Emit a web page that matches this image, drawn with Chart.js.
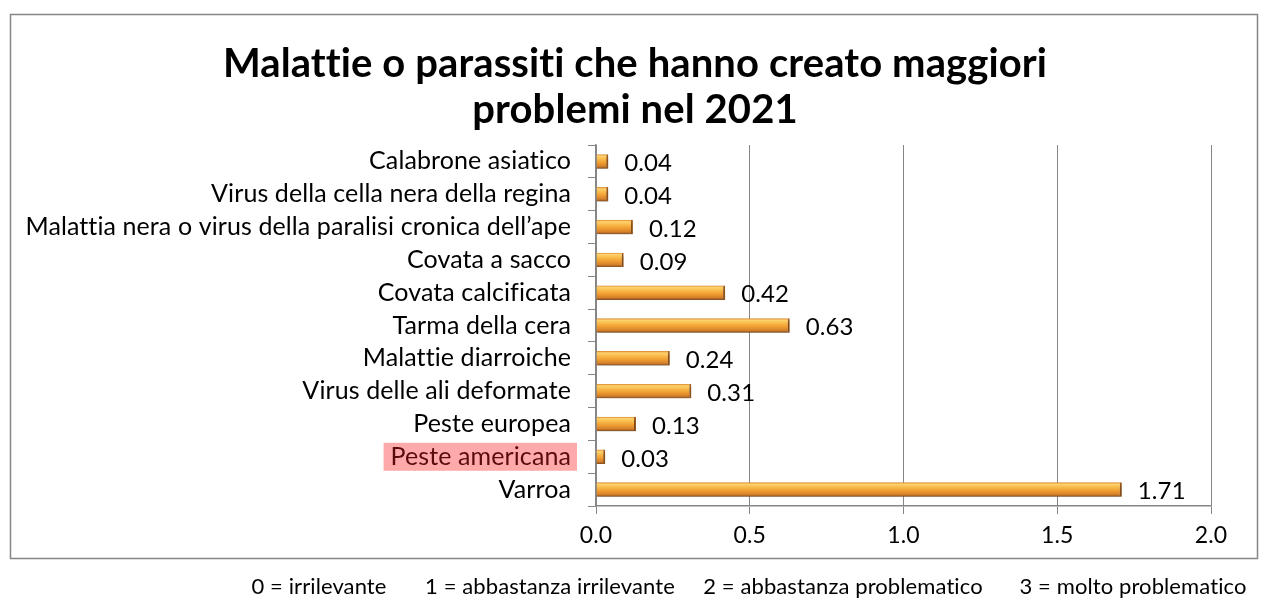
<!DOCTYPE html>
<html><head><meta charset="utf-8">
<script src="https://cdn.jsdelivr.net/npm/chart.js@4/dist/chart.umd.min.js"></script>
<style>html,body{margin:0;padding:0;background:#fff;}#wrap{position:relative;width:1264px;height:599px;}</style>
</head><body><div id="wrap"><canvas id="c" width="1264" height="599"></canvas></div>
<script>
const categories = ["Calabrone asiatico","Virus della cella nera della regina","Malattia nera o virus della paralisi cronica dell\u2019ape","Covata a sacco","Covata calcificata","Tarma della cera","Malattie diarroiche","Virus delle ali deformate","Peste europea","Peste americana","Varroa"];
const values = [0.04,0.04,0.12,0.09,0.42,0.63,0.24,0.31,0.13,0.03,1.71];
const titleLines = ["Malattie o parassiti che hanno creato maggiori","problemi nel 2021"];
const noteItems = ["0 = irrilevante","1 = abbastanza irrilevante","2 = abbastanza problematico","3 = molto problematico"];
const highlighted = "Peste americana";

const FONT = "Lato, 'Open Sans', sans-serif";
const GRID = '#868686';

const decor = {
  id:'decor',
  beforeDraw(chart){
    const ctx = chart.ctx;
    ctx.letterSpacing = '0.1px';
    ctx.save();
    ctx.fillStyle='#fff'; ctx.fillRect(0,0,chart.width,chart.height);
    ctx.strokeStyle=GRID; ctx.lineWidth=1.5;
    ctx.strokeRect(10.5,14.5,1247,544);
    const y = chart.scales.y;
    const i = categories.indexOf(highlighted);
    if(i>=0){
      const yc = y.getPixelForTick(i);
      ctx.font = "25px "+FONT;
      const w = ctx.measureText(highlighted).width;
      ctx.fillStyle='#FFAAAA';
      ctx.fillRect(571-w-7, yc-14, w+13, 28);
    }
    ctx.fillStyle='#000'; ctx.textAlign='center'; ctx.textBaseline='middle';
    ctx.font = "bold 40px "+FONT;
    ctx.fillText(titleLines[0], 635, 64);
    ctx.fillText(titleLines[1], 635, 110);
    ctx.font = "22px "+FONT;
    const centers=[319,550,843,1133];
    noteItems.forEach((t,k)=>ctx.fillText(t, centers[k], 587));
    ctx.restore();
  },
  beforeDatasetsDraw(chart){
    const ctx = chart.ctx;
    ctx.save();
    ctx.shadowColor='rgba(0,0,0,0.35)';
    ctx.shadowBlur=4; ctx.shadowOffsetX=1; ctx.shadowOffsetY=3;
  },
  afterDatasetsDraw(chart){
    const ctx = chart.ctx;
    ctx.restore();
    const meta = chart.getDatasetMeta(0);
    ctx.save();
    ctx.font = "24px "+FONT; ctx.fillStyle='#000';
    ctx.textAlign='left'; ctx.textBaseline='middle';
    meta.data.forEach((bar,k)=>{
      ctx.fillText(values[k].toFixed(2), bar.x+16, bar.y+2);
    });
    ctx.restore();
  }
};

new Chart(document.getElementById('c'), {
  type:'bar',
  data:{labels:categories, datasets:[{
    data:values,
    backgroundColor(context){
      const chart = context.chart;
      const ys = chart.scales.y;
      if(!ys || context.dataIndex===undefined) return '#F0A040';
      const yc = ys.getPixelForValue(context.dataIndex);
      if(!isFinite(yc)) return '#F0A040';
      const g = chart.ctx.createLinearGradient(0, yc-7, 0, yc+7);
      g.addColorStop(0,'#E08E32');
      g.addColorStop(0.12,'#FDD36E');
      g.addColorStop(0.35,'#F8B848');
      g.addColorStop(0.6,'#EF9C31');
      g.addColorStop(0.85,'#D4802A');
      g.addColorStop(1,'#855024');
      return g;
    },
    borderColor:'#A85F1E',
    borderWidth:{top:0,left:0,bottom:0,right:2},
    borderSkipped:false,
    barPercentage:0.44,
    categoryPercentage:1
  }]},
  options:{
    indexAxis:'y',
    responsive:false,
    animation:false,
    layout:{padding:{top:145,left:0,right:53,bottom:41}},
    plugins:{legend:{display:false},tooltip:{enabled:false}},
    scales:{
      x:{
        min:0,max:2,
        ticks:{stepSize:0.5,callback:v=>Number(v).toFixed(1),color:'#000',font:{family:FONT,size:23},padding:8},
        grid:{color:GRID,lineWidth:1,tickLength:8,drawTicks:true},
        border:{color:GRID,width:1.5},
        afterFit(s){s.height=52;}
      },
      y:{
        ticks:{color:(c)=>categories[c.index]===highlighted?'#5A0C0C':'#000',font:{family:FONT,size:25},padding:17,autoSkip:false},
        grid:{offset:true,drawOnChartArea:false,color:GRID,tickLength:8},
        border:{color:GRID,width:1.5},
        afterFit(s){s.width=596;}
      }
    }
  },
  plugins:[decor]
});
</script></body></html>
